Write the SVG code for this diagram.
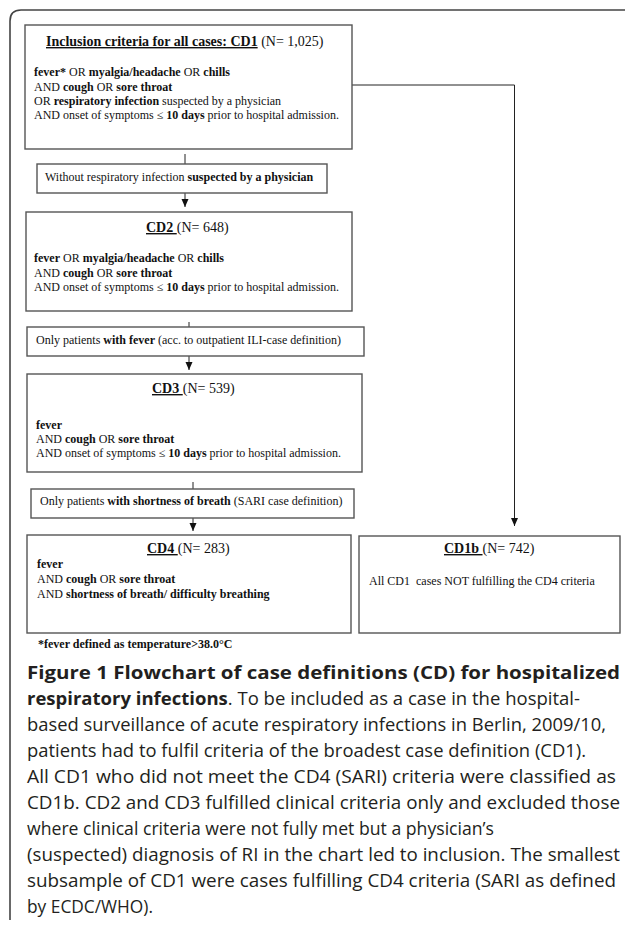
<svg xmlns="http://www.w3.org/2000/svg" width="625" height="930" viewBox="0 0 625 930">
<defs>
<style>
.box{fill:#fff;stroke:#555;stroke-width:1.4}
.frame{fill:none;stroke:#444;stroke-width:1.6}
.con{fill:none;stroke:#222;stroke-width:1}
.t{font-family:"Liberation Serif","Times New Roman",serif;font-size:12px;fill:#111}
.ti{font-family:"Liberation Serif","Times New Roman",serif;font-size:14px;fill:#111}
.b{font-weight:bold}
.u{text-decoration:underline}
.cap{font-family:"Open Sans","Noto Sans","Liberation Sans",sans-serif;font-size:18px;fill:#231f20}
</style>
<marker id="ah" viewBox="0 0 8 8" refX="8" refY="4" markerWidth="8" markerHeight="8" orient="auto" markerUnits="userSpaceOnUse">
<path d="M0,0.5 L8,4 L0,7.5 Z" fill="#111"/>
</marker>
</defs>
<rect width="625" height="930" fill="#fff"/>
<path class="frame" d="M10,920 V21 Q10,10 21,10 H625"/>

<g id="connectors">
<line class="con" x1="185" y1="154" x2="185" y2="164"/>
<line class="con" x1="185" y1="193" x2="185" y2="207" marker-end="url(#ah)"/>
<line class="con" x1="189" y1="322" x2="189" y2="327"/>
<line class="con" x1="189" y1="356" x2="189" y2="370" marker-end="url(#ah)"/>
<line class="con" x1="193" y1="482" x2="193" y2="489"/>
<line class="con" x1="193" y1="518" x2="193" y2="531" marker-end="url(#ah)"/>
<polyline class="con" points="352,85 514.5,85 514.5,526" marker-end="url(#ah)"/>
</g>

<g id="cd1">
<rect class="box" x="25" y="25" width="327" height="124"/>
<text class="ti" x="46" y="46"><tspan class="b u">Inclusion criteria for all cases: CD1</tspan> (N= 1,025)</text>
<text class="t" x="34" y="76"><tspan class="b">fever*</tspan> OR <tspan class="b">myalgia/headache</tspan> OR <tspan class="b">chills</tspan></text>
<text class="t" x="34" y="90.5">AND <tspan class="b">cough</tspan> OR <tspan class="b">sore throat</tspan></text>
<text class="t" x="34" y="104.5">OR <tspan class="b">respiratory infection</tspan> suspected by a physician</text>
<text class="t" x="34" y="119">AND onset of symptoms ≤ <tspan class="b">10 days</tspan> prior to hospital admission.</text>
</g>

<g id="filter1">
<rect class="box" x="37" y="164" width="290" height="29"/>
<text class="t" x="45" y="181">Without respiratory infection <tspan class="b">suspected by a physician</tspan></text>
</g>

<g id="cd2">
<rect class="box" x="26" y="212" width="326" height="99"/>
<text class="ti" x="146" y="232"><tspan class="b u">CD2 </tspan>(N= 648)</text>
<text class="t" x="34" y="262"><tspan class="b">fever</tspan> OR <tspan class="b">myalgia/headache</tspan> OR <tspan class="b">chills</tspan></text>
<text class="t" x="34" y="276.5">AND <tspan class="b">cough</tspan> OR <tspan class="b">sore throat</tspan></text>
<text class="t" x="34" y="291">AND onset of symptoms ≤ <tspan class="b">10 days</tspan> prior to hospital admission.</text>
</g>

<g id="filter2">
<rect class="box" x="27" y="327" width="337" height="29"/>
<text class="t" x="36" y="344">Only patients <tspan class="b">with fever</tspan> (acc. to outpatient ILI-case definition)</text>
</g>

<g id="cd3">
<rect class="box" x="27" y="374" width="335" height="98"/>
<text class="ti" x="152" y="393"><tspan class="b u">CD3 </tspan>(N= 539)</text>
<text class="t" x="36" y="429"><tspan class="b">fever</tspan></text>
<text class="t" x="36" y="443">AND <tspan class="b">cough</tspan> OR <tspan class="b">sore throat</tspan></text>
<text class="t" x="36" y="457">AND onset of symptoms ≤ <tspan class="b">10 days</tspan> prior to hospital admission.</text>
</g>

<g id="filter3">
<rect class="box" x="31" y="489" width="323" height="29"/>
<text class="t" x="40" y="505">Only patients <tspan class="b">with shortness of breath</tspan> (SARI case definition)</text>
</g>

<g id="cd4">
<rect class="box" x="27" y="535" width="324" height="98"/>
<text class="ti" x="147" y="553"><tspan class="b u">CD4 </tspan>(N= 283)</text>
<text class="t" x="37" y="568"><tspan class="b">fever</tspan></text>
<text class="t" x="37" y="583">AND <tspan class="b">cough</tspan> OR <tspan class="b">sore throat</tspan></text>
<text class="t" x="37" y="598">AND <tspan class="b">shortness of breath/ difficulty breathing</tspan></text>
</g>

<g id="cd1b">
<rect class="box" x="359" y="536" width="261" height="97"/>
<text class="ti" x="444" y="553"><tspan class="b u">CD1b </tspan>(N= 742)</text>
<text class="t" x="369" y="585" xml:space="preserve">All CD1  cases NOT fulfilling the CD4 criteria</text>
</g>

<g id="footnote">
<text class="t b" x="38" y="648" font-size="11.5">*fever defined as temperature&gt;38.0°C</text>
</g>

<g id="caption">
<text class="cap b" x="27" y="679" textLength="593" lengthAdjust="spacingAndGlyphs">Figure 1 Flowchart of case definitions (CD) for hospitalized</text>
<text class="cap" x="27" y="705" textLength="553" lengthAdjust="spacingAndGlyphs"><tspan class="b">respiratory infections</tspan>. To be included as a case in the hospital-</text>
<text class="cap" x="27" y="731" textLength="579" lengthAdjust="spacingAndGlyphs">based surveillance of acute respiratory infections in Berlin, 2009/10,</text>
<text class="cap" x="27" y="757" textLength="559" lengthAdjust="spacingAndGlyphs">patients had to fulfil criteria of the broadest case definition (CD1).</text>
<text class="cap" x="27" y="783" textLength="589" lengthAdjust="spacingAndGlyphs">All CD1 who did not meet the CD4 (SARI) criteria were classified as</text>
<text class="cap" x="27" y="809" textLength="593" lengthAdjust="spacingAndGlyphs">CD1b. CD2 and CD3 fulfilled clinical criteria only and excluded those</text>
<text class="cap" x="27" y="835" textLength="467" lengthAdjust="spacingAndGlyphs">where clinical criteria were not fully met but a physician’s</text>
<text class="cap" x="27" y="861" textLength="593" lengthAdjust="spacingAndGlyphs">(suspected) diagnosis of RI in the chart led to inclusion. The smallest</text>
<text class="cap" x="27" y="887" textLength="589" lengthAdjust="spacingAndGlyphs">subsample of CD1 were cases fulfilling CD4 criteria (SARI as defined</text>
<text class="cap" x="27" y="913" textLength="126" lengthAdjust="spacingAndGlyphs">by ECDC/WHO).</text>
</g>
</svg>
